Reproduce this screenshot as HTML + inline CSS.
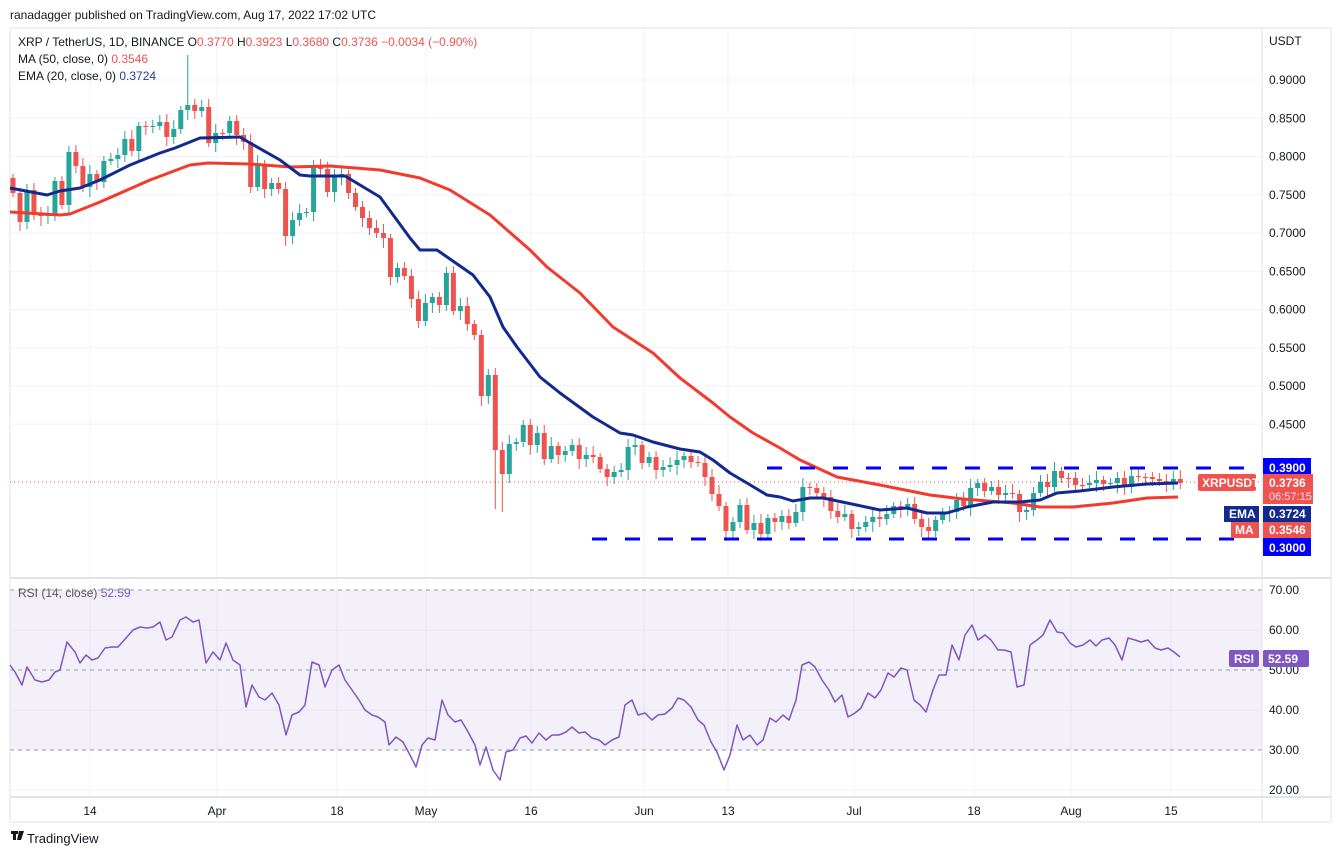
<!DOCTYPE html>
<html><head><meta charset="utf-8"><style>
body{margin:0;background:#fff;font-family:"Liberation Sans",sans-serif;}
svg{display:block}
</style></head><body>
<svg id="s" width="1336" height="856" xmlns="http://www.w3.org/2000/svg" font-family="Liberation Sans, sans-serif">
<rect width="1336" height="856" fill="#fff"/>
<text x="10" y="19" font-size="12" fill="#131722">ranadagger published on TradingView.com, Aug 17, 2022 17:02 UTC</text>
<g id="grid" stroke="#f0f3fa" stroke-width="1"></g>
<rect x="10" y="590" width="1252" height="160" fill="#7e57c2" fill-opacity="0.09"/>
<g stroke="#9598a1" stroke-dasharray="4,4" stroke-width="1">
<line x1="10" y1="590" x2="1262" y2="590"/><line x1="10" y1="670" x2="1262" y2="670"/><line x1="10" y1="750" x2="1262" y2="750"/>
</g>
<rect x="10" y="28" width="1321" height="794" fill="none" stroke="#e0e3eb"/>
<line x1="1262" y1="28" x2="1262" y2="822" stroke="#e0e3eb"/>
<line x1="10" y1="578" x2="1331" y2="578" stroke="#e0e3eb" stroke-width="2"/>
<line x1="10" y1="797" x2="1331" y2="797" stroke="#e0e3eb" stroke-width="2"/>
<line x1="10" y1="482" x2="1262" y2="482" stroke="#ef5350" stroke-dasharray="1,3"/>
<g id="candles"></g>
<polyline id="ma" fill="none" stroke="#f23b2e" stroke-width="3" stroke-linejoin="round"/>
<polyline id="ema" fill="none" stroke="#122a8f" stroke-width="3" stroke-linejoin="round"/>
<line x1="767" y1="468" x2="1245" y2="468" stroke="#0000ff" stroke-width="3" stroke-dasharray="15,18"/>
<line x1="592" y1="539" x2="1245" y2="539" stroke="#0000ff" stroke-width="3" stroke-dasharray="15,18"/>
<polyline id="rsi" fill="none" stroke="#7e57c2" stroke-width="1.5" stroke-linejoin="round"/>
<g font-size="12" fill="#131722">
<text x="18" y="46">XRP / TetherUS, 1D, BINANCE  O<tspan fill="#ef5350">0.3770</tspan>  H<tspan fill="#ef5350">0.3923</tspan>  L<tspan fill="#ef5350">0.3680</tspan>  C<tspan fill="#ef5350">0.3736</tspan>  <tspan fill="#ef5350">−0.0034 (−0.90%)</tspan></text>
<text x="18" y="63">MA (50, close, 0)  <tspan fill="#ef5350">0.3546</tspan></text>
<text x="18" y="80">EMA (20, close, 0)  <tspan fill="#1e3fa0">0.3724</tspan></text>
<text x="18" y="597" fill="#555">RSI (14, close)  <tspan fill="#7e57c2">52.59</tspan></text>
</g>
<g id="plab" font-size="12" fill="#131722"></g>
<g font-size="12" fill="#131722" text-anchor="middle" id="tlab"></g>
<rect x="1263" y="458" width="48" height="19" fill="#0000ff"/><text x="1269" y="472" font-size="12" font-weight="bold" fill="#fff">0.3900</text>
<rect x="1198" y="474" width="58" height="17" rx="2" fill="#ef5350"/><text x="1202" y="487" font-size="12" font-weight="bold" fill="#fff">XRPUSDT</text>
<rect x="1263" y="474" width="50" height="30" fill="#ef5350"/><text x="1269" y="487" font-size="12" font-weight="bold" fill="#fff">0.3736</text><text x="1269" y="500" font-size="11" fill="#fde">06:57:15</text>
<rect x="1224" y="506" width="35" height="16" fill="#122a8f"/><text x="1229" y="518" font-size="12" font-weight="bold" fill="#fff">EMA</text>
<rect x="1263" y="506" width="48" height="16" fill="#122a8f"/><text x="1269" y="518" font-size="12" font-weight="bold" fill="#fff">0.3724</text>
<rect x="1231" y="522" width="28" height="16" fill="#ef5350"/><text x="1235" y="534" font-size="12" font-weight="bold" fill="#fff">MA</text>
<rect x="1263" y="522" width="48" height="16" fill="#ef5350"/><text x="1269" y="534" font-size="12" font-weight="bold" fill="#fff">0.3546</text>
<rect x="1263" y="538" width="48" height="18" fill="#0000ff"/><text x="1269" y="552" font-size="12" font-weight="bold" fill="#fff">0.3000</text>
<rect x="1229" y="650" width="30" height="17" rx="2" fill="#7e57c2"/><text x="1234" y="663" font-size="12" font-weight="bold" fill="#fff">RSI</text>
<rect x="1263" y="650" width="46" height="17" rx="2" fill="#7e57c2"/><text x="1268" y="663" font-size="12" font-weight="bold" fill="#fff">52.59</text>
<rect x="11" y="831" width="7" height="3" fill="#131722"/><rect x="13" y="831" width="3" height="9" fill="#131722"/><polygon points="19,831 24,831 21,840 17,840" fill="#131722"/>
<text x="27" y="843" font-size="13" fill="#131722">TradingView</text>
</svg>
<script>
var NS="http://www.w3.org/2000/svg";
function el(t,a,p){var e=document.createElementNS(NS,t);for(var k in a)e.setAttribute(k,a[k]);(p||document.getElementById('s')).appendChild(e);return e;}
(function(){
var C=[193,222,190,215,216,215,181,205,152,166,187,174,182,161,159,155,139,151,126,127,126,122,137,129,110,105,111,107,143,133,133,121,135,142,187,164,189,183,189,236,220,213,212,165,169,192,177,174,193,207,218,228,233,238,277,268,276,299,321,303,297,305,273,311,306,324,335,396,375,450,474,444,442,425,445,433,459,446,455,451,445,459,455,457,469,477,472,470,447,445,463,457,470,467,465,460,456,462,463,477,494,506,531,522,505,530,523,534,518,522,516,523,512,487,488,493,497,511,517,514,529,527,522,517,519,514,506,509,504,519,527,531,520,513,512,500,506,488,483,491,487,495,493,494,512,510,493,482,487,471,478,478,485,485,483,480,484,483,478,487,476,477,477,479,481,482,479,483];
var special={25:[55,0],69:[0,509],70:[0,512]};
var g=document.getElementById('candles');var prev=178;
for(var i=0;i<C.length;i++){var x=13+i*6.99,o=prev,c=C[i];var up=c<o;var col=up?'#26a69a':'#ef5350';
var tp=Math.min(o,c),bt=Math.max(o,c);var hi=tp-4-((i*7)%6),lo=bt+4+((i*5)%7);
if(special[i]){if(special[i][0])hi=special[i][0];if(special[i][1])lo=special[i][1];}
el('line',{x1:x,x2:x,y1:hi,y2:lo,stroke:col,'stroke-width':1},g);
el('rect',{x:x-2.5,y:tp,width:5,height:Math.max(1,bt-tp),fill:col},g);prev=c;}
})();
document.getElementById('ema').setAttribute('points',"10,188 47,195 60,191 80,188 100,180 130,165 160,153 175,148 200,138 240,137 250,143 280,160 300,175 310,176 345,176 380,197 410,238 420,250 437,250 473,275 490,297 503,327 517,347 540,377 560,393 593,417 620,433 633,435 653,442 680,449 700,452 713,460 730,473 747,483 767,495 780,497 793,501 810,498 823,498 847,503 880,510 907,508 927,513 947,513 967,507 993,502 1020,502 1040,500 1057,493 1080,491 1113,487 1147,484 1178,483");
document.getElementById('ma').setAttribute('points',"10,212 60,215 70,214 100,202 150,180 190,165 208,163 250,164 290,167 330,166 380,170 420,178 450,190 490,215 530,250 547,267 580,293 613,327 633,340 653,353 680,378 713,403 730,417 753,433 780,448 800,460 837,477 880,485 930,495 963,499 1013,503 1040,507 1073,507 1113,503 1147,498 1178,497");
document.getElementById('rsi').setAttribute('points',"10,665 15,672 22,685 27,667 35,680 42,682 49,680 55,672 60,670 67,642 75,652 80,663 86,655 92,660 98,658 105,648 112,647 118,647 126,638 133,630 140,627 147,628 153,627 160,622 166,640 172,637 180,620 186,617 193,622 199,620 206,663 213,652 220,660 226,643 233,660 240,665 246,707 252,685 259,697 265,700 272,693 279,705 286,735 292,715 299,712 305,705 312,662 319,665 325,687 332,670 339,665 345,680 352,690 359,700 365,710 372,715 378,717 385,722 389,745 396,737 403,742 410,755 416,767 422,745 428,738 435,740 442,700 448,715 455,722 461,720 467,730 475,745 480,765 486,747 493,770 500,780 506,752 513,750 520,738 526,736 532,743 539,733 546,740 552,735 559,735 566,732 572,727 579,733 585,732 592,738 599,740 605,745 612,740 619,737 625,705 632,700 638,715 645,713 652,720 658,715 665,714 672,708 678,698 684,700 691,707 698,720 704,725 711,742 717,752 724,770 730,755 737,725 743,740 750,735 757,745 763,740 770,718 776,722 783,715 789,720 796,700 802,665 809,662 815,667 822,680 829,690 835,702 842,695 848,717 855,713 861,708 868,693 875,698 881,690 888,673 894,677 901,668 907,670 914,700 920,705 926,712 933,690 939,675 946,675 952,645 959,660 965,635 972,625 978,640 985,635 991,640 998,650 1004,650 1011,652 1017,687 1024,685 1030,645 1037,640 1043,635 1050,620 1057,632 1063,633 1070,643 1076,647 1083,645 1090,640 1096,646 1102,640 1109,638 1115,645 1122,660 1128,638 1135,640 1141,642 1148,640 1155,648 1161,650 1168,648 1174,652 1180,657");
(function(){
var grid=document.getElementById('grid');var pl=document.getElementById('plab');
var tx=[[90,'14'],[217,'Apr'],[337,'18'],[426,'May'],[531,'16'],[644,'Jun'],[728,'13'],[854,'Jul'],[974,'18'],[1071,'Aug'],[1171,'15']];
tx.forEach(function(t){el('line',{x1:t[0],x2:t[0],y1:28,y2:797},grid);var e=el('text',{x:t[0],y:815},document.getElementById('tlab'));e.textContent=t[1];});
for(var k=0;k<10;k++){var p=0.90-k*0.05;var y=80+(0.9-p)*765;el('line',{x1:10,x2:1262,y1:y,y2:y},grid);var e=el('text',{x:1269,y:y+4},pl);e.textContent=p.toFixed(4);}
[70,60,50,40,30,20].forEach(function(r){var y=590+(70-r)*4;if(r==60||r==40||r==20)el('line',{x1:10,x2:1262,y1:y,y2:y},grid);var e=el('text',{x:1269,y:y+4},pl);e.textContent=r.toFixed(2);});
var e=el('text',{x:1269,y:45},pl);e.textContent='USDT';
})();
</script>
</body></html>
